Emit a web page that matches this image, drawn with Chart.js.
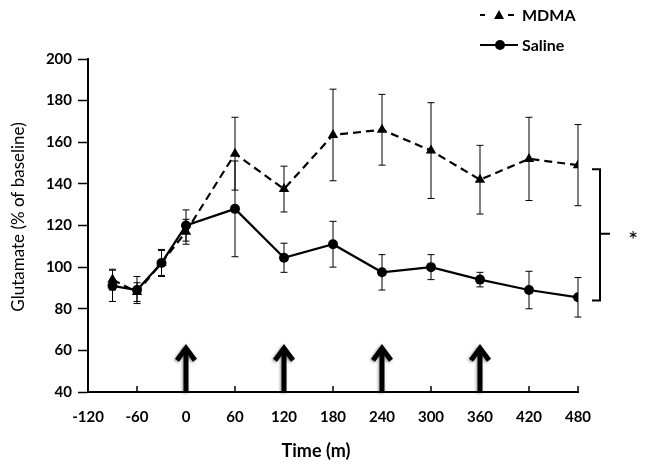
<!DOCTYPE html>
<html>
<head>
<meta charset="utf-8">
<script src="https://cdn.jsdelivr.net/npm/chart.js@4"></script>
<style>
html,body{margin:0;padding:0;background:#fff;}
#wrap{width:650px;height:471px;position:relative;}
</style>
</head>
<body>
<div id="wrap"><canvas id="c" width="650" height="471"></canvas></div>
<script>
const times = [-90, -60, -30, 0, 60, 120, 180, 240, 300, 360, 420, 480];
const mdmaValues = [94, 88, 102, 117, 154.5, 137.5, 163.5, 166, 156, 142, 152, 149];
const mdmaErr = [5, 4.5, 6, 6, 17.5, 11, 22, 17, 23, 16.5, 20, 19.5];
const salineValues = [91, 89, 102, 120, 128, 104.5, 111, 97.5, 100, 94, 89, 85.5];
const salineErr = [7.5, 6.5, 6.5, 7.5, 23, 7, 11, 8.5, 6, 3.5, 9, 9.5];
const xTicks = [-120, -60, 0, 60, 120, 180, 240, 300, 360, 420, 480];
const yTicks = [40, 60, 80, 100, 120, 140, 160, 180, 200];
const arrowTimes = [0, 120, 240, 360];
const arrowTipValue = 62.5;
const bracketRange = [84, 147];
const bracketMid = 116;
const FONT = 'Lato, "Open Sans", sans-serif';

const errors = [mdmaErr, salineErr];

const errorBarPlugin = {
  id: 'errbars',
  beforeDatasetsDraw(chart) {
    const ctx = chart.ctx, xs = chart.scales.x, ys = chart.scales.y;
    ctx.save();
    ctx.strokeStyle = '#000';
    ctx.lineWidth = 1;
    chart.data.datasets.forEach((ds, di) => {
      ds.data.forEach((p, i) => {
        const e = errors[di][i];
        const px = xs.getPixelForValue(p.x);
        const top = ys.getPixelForValue(p.y + e);
        const bot = ys.getPixelForValue(p.y - e);
        ctx.beginPath();
        ctx.moveTo(px, top); ctx.lineTo(px, bot);
        ctx.moveTo(px - 3.5, top); ctx.lineTo(px + 3.5, top);
        ctx.moveTo(px - 3.5, bot); ctx.lineTo(px + 3.5, bot);
        ctx.stroke();
      });
    });
    ctx.restore();
  }
};

const decorPlugin = {
  id: 'decor',
  afterDraw(chart) {
    const ctx = chart.ctx, xs = chart.scales.x, ys = chart.scales.y;
    const area = chart.chartArea;
    ctx.save();
    // inward x ticks
    ctx.strokeStyle = '#000';
    ctx.lineWidth = 1.5;
    xTicks.forEach(t => {
      const px = xs.getPixelForValue(t);
      ctx.beginPath();
      ctx.moveTo(px, area.bottom);
      ctx.lineTo(px, area.bottom - 6);
      ctx.stroke();
    });
    // arrows
    ctx.shadowColor = 'rgba(0,0,0,0.45)';
    ctx.shadowBlur = 3;
    ctx.shadowOffsetX = -1;
    ctx.shadowOffsetY = 1;
    ctx.lineWidth = 5;
    ctx.lineCap = 'butt';
    ctx.lineJoin = 'miter';
    arrowTimes.forEach(t => {
      const px = xs.getPixelForValue(t);
      const tip = ys.getPixelForValue(arrowTipValue);
      ctx.beginPath();
      ctx.moveTo(px, area.bottom);
      ctx.lineTo(px, tip + 3);
      ctx.stroke();
      ctx.beginPath();
      ctx.moveTo(px - 9, tip + 15);
      ctx.lineTo(px, tip + 3);
      ctx.lineTo(px + 9, tip + 15);
      ctx.stroke();
    });
    ctx.shadowColor = 'transparent';
    ctx.shadowBlur = 0;
    ctx.shadowOffsetX = 0; ctx.shadowOffsetY = 0;
    // bracket
    const bx = xs.getPixelForValue(480) + 22;
    const bt = ys.getPixelForValue(bracketRange[1]);
    const bb = ys.getPixelForValue(bracketRange[0]);
    const bm = ys.getPixelForValue(bracketMid);
    ctx.lineWidth = 2;
    ctx.beginPath();
    ctx.moveTo(bx - 8, bt); ctx.lineTo(bx, bt); ctx.lineTo(bx, bb); ctx.lineTo(bx - 8, bb);
    ctx.moveTo(bx, bm); ctx.lineTo(bx + 10, bm);
    ctx.stroke();
    ctx.fillStyle = '#000';
    ctx.font = '24px ' + FONT;
    ctx.textAlign = 'center';
    ctx.textBaseline = 'middle';
    ctx.fillText('*', bx + 33, bm + 6);
    // axis titles
    ctx.font = 'bold 18px ' + FONT;
    ctx.fillText('Time (m)', 316, 451);
    ctx.save();
    ctx.translate(19, 217);
    ctx.rotate(-Math.PI / 2);
    ctx.font = '17px ' + FONT;
    ctx.fillText('Glutamate (% of baseline)', 0, 0);
    ctx.restore();
    // legend
    ctx.font = 'bold 16px ' + FONT;
    ctx.textAlign = 'left';
    const lg = [{y: 15, ds: chart.data.datasets[0]}, {y: 45, ds: chart.data.datasets[1]}];
    lg.forEach(item => {
      const ds = item.ds;
      ctx.strokeStyle = '#000';
      ctx.lineWidth = 2;
      ctx.beginPath();
      if (ds.borderDash && ds.borderDash.length) {
        ctx.moveTo(480, item.y); ctx.lineTo(485, item.y);
        ctx.moveTo(508, item.y); ctx.lineTo(514, item.y);
      } else {
        ctx.moveTo(480, item.y); ctx.lineTo(518, item.y);
      }
      ctx.stroke();
      ctx.fillStyle = '#000';
      ctx.beginPath();
      if (ds.pointStyle === 'triangle') {
        ctx.moveTo(499, item.y - 5); ctx.lineTo(504, item.y + 4); ctx.lineTo(494, item.y + 4);
        ctx.closePath();
      } else {
        ctx.arc(500, item.y, 5, 0, Math.PI * 2);
      }
      ctx.fill();
      ctx.fillText(ds.label, 522, item.y + 1);
    });
    ctx.restore();
  }
};

new Chart(document.getElementById('c'), {
  type: 'line',
  data: {
    datasets: [
      {
        label: 'MDMA',
        data: times.map((t, i) => ({x: t, y: mdmaValues[i]})),
        borderColor: '#000',
        backgroundColor: '#000',
        borderWidth: 2.2,
        borderDash: [8, 5],
        pointStyle: 'triangle',
        pointRadius: 6,
        pointBorderWidth: 0,
        tension: 0
      },
      {
        label: 'Saline',
        data: times.map((t, i) => ({x: t, y: salineValues[i]})),
        borderColor: '#000',
        backgroundColor: '#000',
        borderWidth: 2.2,
        pointStyle: 'circle',
        pointRadius: 5,
        pointBorderWidth: 0,
        tension: 0
      }
    ]
  },
  options: {
    responsive: false,
    animation: false,
    devicePixelRatio: 1,
    layout: {padding: {left: 0, right: 72, top: 59, bottom: 0}},
    plugins: {legend: {display: false}, tooltip: {enabled: false}, title: {display: false}},
    scales: {
      x: {
        type: 'linear',
        min: -120, max: 480,
        afterFit(s) { s.height = 79; },
        afterBuildTicks(s) { s.ticks = xTicks.map(v => ({value: v})); },
        grid: {display: false, drawTicks: false},
        border: {display: true, color: '#000', width: 2},
        ticks: {color: '#000', padding: 16, font: {family: FONT, size: 15, weight: 'bold'}, maxRotation: 0, autoSkip: false}
      },
      y: {
        min: 40, max: 200,
        afterFit(s) { s.width = 88; },
        afterBuildTicks(s) { s.ticks = yTicks.map(v => ({value: v})); },
        grid: {display: true, drawOnChartArea: false, drawTicks: true, tickLength: 10, color: '#000', tickWidth: 1.5},
        border: {display: true, color: '#000', width: 2},
        ticks: {color: '#000', padding: 6, font: {family: FONT, size: 15, weight: 'bold'}}
      }
    }
  },
  plugins: [errorBarPlugin, decorPlugin]
});
</script>
</body>
</html>
